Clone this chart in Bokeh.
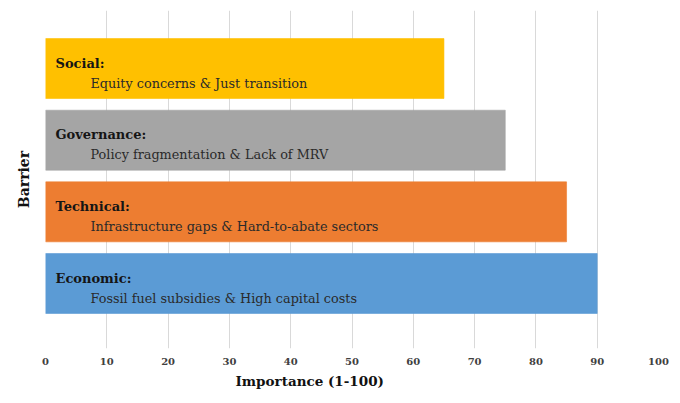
import numpy as np
from bokeh.plotting import figure
from bokeh.models import ColumnDataSource, FixedTicker, Range1d, Title
from bokeh.core.properties import value
from bokeh.embed import file_html
from bokeh.resources import INLINE

# ---- data ----
categories = ["Economic", "Technical", "Governance", "Social"]
descriptions = [
    "Fossil fuel subsidies & High capital costs",
    "Infrastructure gaps & Hard-to-abate sectors",
    "Policy fragmentation & Lack of MRV",
    "Equity concerns & Just transition",
]
importance = [90, 85, 75, 65]
colors = ["#5B9BD5", "#ED7D31", "#A5A5A5", "#FFC000"]
x_ticks = [0, 10, 20, 30, 40, 50, 60, 70, 80, 90, 100]
x_title = "Importance (1-100)"
y_title = "Barrier"

FONT = "DejaVu Serif"

src = ColumnDataSource(dict(
    y=list(range(len(categories))),
    v=importance,
    color=colors,
    label=[c + ":" for c in categories],
    desc=descriptions,
))

p = figure(width=672, height=395,
           x_range=Range1d(0, 100), y_range=Range1d(-0.907, 3.81),
           output_backend="svg", toolbar_location=None,
           min_border_left=45, min_border_right=14,
           min_border_top=10, min_border_bottom=47)

p.hbar(y="y", left=0, right="v", height=0.837, fill_color="color",
       line_color="color", line_alpha=0.6, source=src)

p.text(x=0, y="y", text="label", x_offset=10, y_offset=-5.5,
       text_font=value(FONT), text_font_style="bold", text_font_size="13px",
       text_baseline="alphabetic", text_color="#151515", source=src)
p.text(x=0, y="y", text="desc", x_offset=45, y_offset=14.5,
       text_font=value(FONT), text_font_size="12.8px",
       text_baseline="alphabetic", text_color="#2a2a2a", source=src)

# x axis
xa = p.xaxis[0]
xa.ticker = FixedTicker(ticks=x_ticks)
xa.axis_line_color = None
xa.major_tick_line_color = None
xa.minor_tick_line_color = None
xa.major_tick_out = 0
xa.major_tick_in = 0
xa.major_label_standoff = 9
xa.major_label_text_font = FONT
xa.major_label_text_font_style = "bold"
xa.major_label_text_font_size = "10px"
xa.major_label_text_color = "#404040"

# y axis
ya = p.yaxis[0]
ya.ticker = FixedTicker(ticks=[])
ya.axis_line_color = None
ya.major_tick_line_color = None
ya.minor_tick_line_color = None
ya.major_tick_out = 0
ya.major_tick_in = 0
ya.major_label_standoff = 0
ya.axis_label = y_title
ya.axis_label_standoff = 14
ya.axis_label_text_font = FONT
ya.axis_label_text_font_style = "bold"
ya.axis_label_text_font_size = "14px"
ya.axis_label_text_color = "#111111"

p.xgrid.grid_line_color = "#d9d9d9"
p.ygrid.grid_line_color = None
p.outline_line_color = None

t = Title(text=x_title, align="left", offset=190,
          text_font=FONT, text_font_size="13.5px", text_font_style="bold",
          text_color="#111111", standoff=7)
p.add_layout(t, "below")

open("out.html", "w").write(file_html(p, INLINE))
